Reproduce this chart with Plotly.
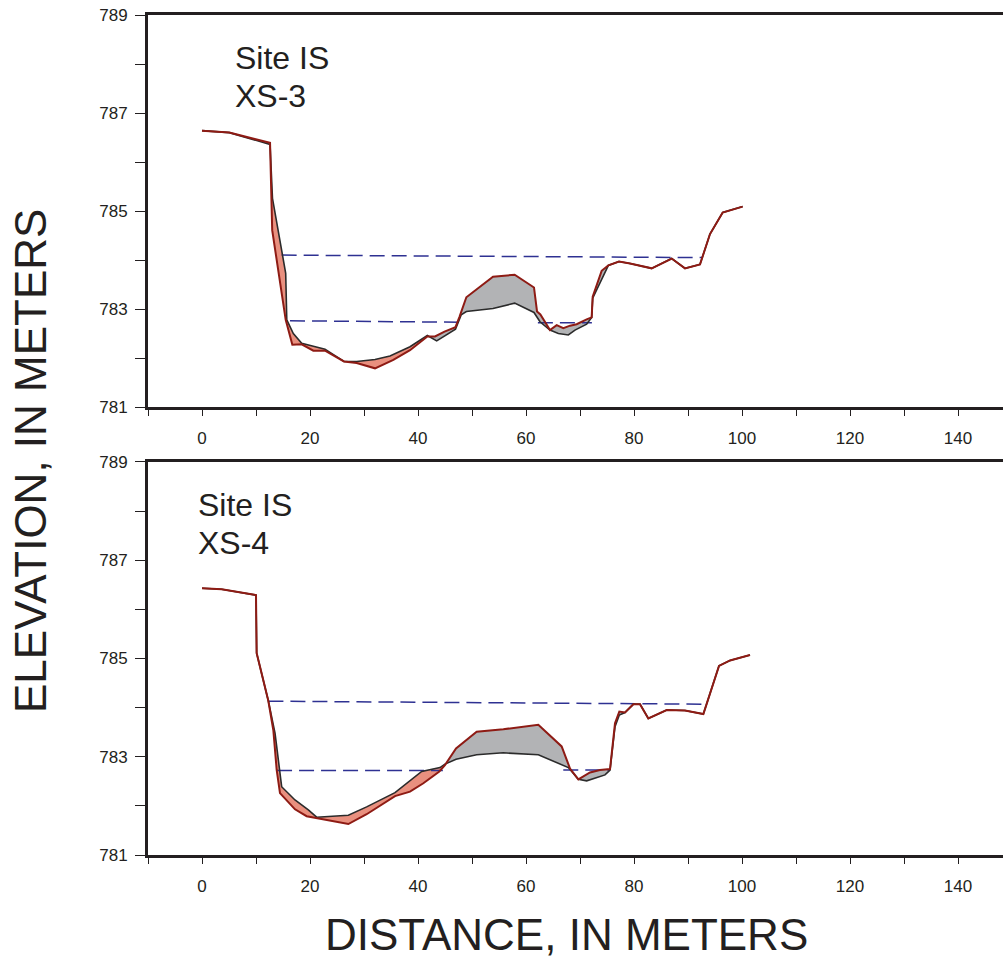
import numpy as np
import plotly.graph_objects as go

# ---------------- Data ----------------
# Site IS, XS-3  (top panel)
xs3_old_x = [0, 5.06, 12.6, 13.05, 15.5, 15.7, 16.91, 18.46, 20.62, 22.78,
             26.30, 28.64, 32.04, 34.81, 38.52, 41.73, 43.46, 46.94, 47.99, 48.95,
             53.89, 57.90, 61.48, 62.59, 64.44, 65.99, 67.84, 69.07, 71.23, 72.16,
             72.35, 73.70, 75.25, 77.22, 79.26, 83.27, 86.98, 89.44, 92.22, 94.07,
             96.42, 100.12]
xs3_old_y = [786.64, 786.60, 786.36, 785.26, 783.73, 782.78, 782.50, 782.30, 782.24, 782.18,
             781.93, 781.93, 781.97, 782.04, 782.23, 782.46, 782.35, 782.59, 782.88, 782.95,
             783.01, 783.12, 782.93, 782.74, 782.57, 782.50, 782.47, 782.57, 782.69, 782.83,
             783.22, 783.52, 783.89, 783.97, 783.93, 783.83, 784.03, 783.83, 783.91, 784.53,
             784.97, 785.09]
xs3_new_x = [0, 5.06, 12.6, 13.0, 15.5, 16.73, 18.46, 20.62, 22.78, 26.30,
             28.64, 32.04, 35.43, 38.52, 41.73, 43.15, 44.91, 46.94, 47.68, 48.95,
             53.89, 57.90, 61.48, 62.04, 62.66, 64.44, 65.68, 66.91, 68.15, 69.38,
             71.23, 72.16, 72.35, 74.01, 75.25, 77.22, 79.26, 83.27, 86.98, 89.44,
             92.22, 94.07, 96.42, 100.12]
xs3_new_y = [786.64, 786.60, 786.39, 784.61, 782.78, 782.27, 782.28, 782.15, 782.15, 781.93,
             781.90, 781.79, 781.96, 782.16, 782.44, 782.44, 782.54, 782.63, 782.84, 783.24,
             783.66, 783.70, 783.44, 782.95, 782.89, 782.57, 782.67, 782.61, 782.66, 782.69,
             782.79, 782.83, 783.25, 783.78, 783.89, 783.97, 783.93, 783.83, 784.03, 783.83,
             783.91, 784.53, 784.97, 785.09]
xs3_ws_high_x = [14.75, 92.7]
xs3_ws_high_y = [784.10, 784.05]
xs3_ws_low_x = [16.3, 47.7, None, 62.2, 72.2]
xs3_ws_low_y = [782.76, 782.73, None, 782.72, 782.72]

# Site IS, XS-4  (bottom panel)
xs4_old_x = [0, 3.64, 10.0, 10.12, 12.28, 13.52, 13.83, 14.75, 17.22, 19.69,
             21.23, 27.10, 30.49, 35.74, 40.68, 44.07, 44.99, 47.04, 50.86, 55.80,
             62.28, 67.84, 69.69, 71.23, 74.63, 75.56, 76.48, 77.28, 78.33, 79.88,
             81.11, 82.65, 86.05, 89.44, 92.84, 95.74, 97.78, 101.48]
xs4_old_y = [786.43, 786.41, 786.29, 785.11, 784.14, 783.48, 783.21, 782.39, 782.12, 781.92,
             781.77, 781.81, 781.98, 782.27, 782.70, 782.78, 782.85, 782.95, 783.04, 783.08,
             783.04, 782.78, 782.54, 782.51, 782.63, 782.73, 783.61, 783.85, 783.90, 784.07,
             784.07, 783.78, 783.95, 783.94, 783.87, 784.85, 784.96, 785.07]
xs4_new_x = [0, 3.64, 10.0, 10.12, 12.28, 13.21, 13.83, 14.44, 17.22, 19.38,
             27.10, 30.49, 35.74, 38.52, 40.99, 43.95, 44.99, 47.04, 50.86, 55.80,
             62.28, 66.60, 68.15, 69.69, 71.85, 73.70, 75.56, 76.48, 77.28, 78.33,
             79.88, 81.11, 82.65, 86.05, 89.44, 92.84, 95.74, 97.78, 101.48]
xs4_new_y = [786.43, 786.41, 786.29, 785.11, 784.14, 783.54, 782.73, 782.26, 781.93, 781.79,
             781.63, 781.83, 782.20, 782.29, 782.46, 782.70, 782.83, 783.17, 783.51, 783.56,
             783.65, 783.21, 782.76, 782.54, 782.68, 782.73, 782.75, 783.68, 783.92, 783.90,
             784.07, 784.07, 783.78, 783.95, 783.94, 783.87, 784.85, 784.96, 785.07]
xs4_ws_high_x = [12.3, 93.5]
xs4_ws_high_y = [784.13, 784.07]
xs4_ws_low_x = [13.9, 44.6, None, 66.9, 75.56]
xs4_ws_low_y = [782.72, 782.72, None, 782.73, 782.73]

x_tick_vals = list(range(-10, 150, 10))
x_tick_text = ["" if v % 20 else str(v) for v in x_tick_vals]
y_tick_vals = list(range(781, 790))
y_tick_text = [str(v) if (v - 781) % 2 == 0 else "" for v in y_tick_vals]

panels = [
    ("Site IS", "XS-3", xs3_old_x, xs3_old_y, xs3_new_x, xs3_new_y,
     xs3_ws_high_x, xs3_ws_high_y, xs3_ws_low_x, xs3_ws_low_y, 5.75),
    ("Site IS", "XS-4", xs4_old_x, xs4_old_y, xs4_new_x, xs4_new_y,
     xs4_ws_high_x, xs4_ws_high_y, xs4_ws_low_x, xs4_ws_low_y, -1.1),
]

# ---------------- Styles ----------------
INK = "#231f20"
RED = "#8e1b14"
OLD = "#2b2b2b"
SALMON = "#e9907f"
GRAY = "#b2b3b5"
BLUE = "#2e3192"
FONT = "Liberation Sans, Arial, Helvetica, sans-serif"


def envelopes(xo, yo, xn, yn):
    grid = np.array(sorted(set(xo) | set(xn)), dtype=float)
    bo = np.interp(grid, xo, yo)
    bn = np.interp(grid, xn, yn)
    extra = []
    for i in range(len(grid) - 1):
        d0 = bn[i] - bo[i]
        d1 = bn[i + 1] - bo[i + 1]
        if d0 * d1 < 0:
            t = d0 / (d0 - d1)
            extra.append(grid[i] + t * (grid[i + 1] - grid[i]))
    grid = np.array(sorted(set(grid.tolist()) | set(extra)))
    bo = np.interp(grid, xo, yo)
    bn = np.interp(grid, xn, yn)
    return grid, bo, np.maximum(bo, bn), np.minimum(bo, bn)


fig = go.Figure()
ann = []
lab_font = dict(family=FONT, size=32, color=INK)
for k, (t1, t2, xo, yo, xn, yn, hx, hy, lx, ly, tx) in enumerate(panels):
    xa = "x" if k == 0 else "x2"
    ya = "y" if k == 0 else "y2"
    g, base, up, lo = envelopes(xo, yo, xn, yn)
    nl = dict(width=0)
    fig.add_trace(go.Scatter(x=g, y=base, mode="lines", line=nl, xaxis=xa, yaxis=ya,
                             showlegend=False, hoverinfo="skip"))
    fig.add_trace(go.Scatter(x=g, y=up, mode="lines", line=nl, fill="tonexty",
                             fillcolor=GRAY, xaxis=xa, yaxis=ya, showlegend=False,
                             hoverinfo="skip"))
    fig.add_trace(go.Scatter(x=g, y=base, mode="lines", line=nl, xaxis=xa, yaxis=ya,
                             showlegend=False, hoverinfo="skip"))
    fig.add_trace(go.Scatter(x=g, y=lo, mode="lines", line=nl, fill="tonexty",
                             fillcolor=SALMON, xaxis=xa, yaxis=ya, showlegend=False,
                             hoverinfo="skip"))
    fig.add_trace(go.Scatter(x=hx, y=hy, mode="lines", xaxis=xa, yaxis=ya, showlegend=False,
                             line=dict(color=BLUE, width=1.5, dash="15px,7px")))
    fig.add_trace(go.Scatter(x=lx, y=ly, mode="lines", xaxis=xa, yaxis=ya, showlegend=False,
                             line=dict(color=BLUE, width=1.5, dash="15px,7px")))
    fig.add_trace(go.Scatter(x=xo, y=yo, mode="lines", xaxis=xa, yaxis=ya, showlegend=False,
                             line=dict(color=OLD, width=1.6)))
    fig.add_trace(go.Scatter(x=xn, y=yn, mode="lines", xaxis=xa, yaxis=ya, showlegend=False,
                             line=dict(color=RED, width=2)))
    ann.append(dict(x=tx, y=788.13, xref=xa, yref=ya, text=t1, showarrow=False,
                    xanchor="left", yanchor="middle", font=lab_font))
    ann.append(dict(x=tx, y=787.35, xref=xa, yref=ya, text=t2, showarrow=False,
                    xanchor="left", yanchor="middle", font=lab_font))

xcommon = dict(range=[-10, 148.33], tickmode="array", tickvals=x_tick_vals,
               ticktext=x_tick_text, ticks="outside", ticklen=6, tickwidth=1.3,
               tickcolor=INK, showline=True, linewidth=3, linecolor=INK, mirror=True,
               showgrid=False, zeroline=False, ticklabelstandoff=8,
               tickfont=dict(family=FONT, size=17, color=INK))
ycommon = dict(range=[781, 789], tickmode="array", tickvals=y_tick_vals,
               ticktext=y_tick_text, ticks="outside", ticklen=10, tickwidth=1.3,
               tickcolor=INK, showline=True, linewidth=3, linecolor=INK, mirror=False,
               showgrid=False, zeroline=False, ticklabelstandoff=4,
               tickfont=dict(family=FONT, size=17, color=INK))

fig.update_layout(
    width=1003, height=959,
    margin=dict(l=148, r=0, t=15, b=104),
    plot_bgcolor="white", paper_bgcolor="white",
    xaxis=dict(domain=[0, 1], anchor="y", **xcommon),
    yaxis=dict(domain=[0.5333, 1], anchor="x", **ycommon),
    xaxis2=dict(domain=[0, 1], anchor="y2", **xcommon),
    yaxis2=dict(domain=[0, 0.4679], anchor="x2", **ycommon),
    showlegend=False,
)

ann += [
    dict(x=-0.138, y=0.469, xref="paper", yref="paper", text="ELEVATION, IN METERS",
         textangle=-90, showarrow=False, xanchor="center", yanchor="middle",
         font=dict(family=FONT, size=44, color=INK)),
    dict(x=0.4889, y=-0.0952, xref="paper", yref="paper", text="DISTANCE, IN METERS",
         showarrow=False, xanchor="center", yanchor="middle",
         font=dict(family=FONT, size=44, color=INK)),
]
fig.update_layout(annotations=ann)

fig.write_html(
    "out.html",
    config={"displayModeBar": False},
    post_script="document.body.style.margin='0';document.body.style.overflow='hidden';",
)
